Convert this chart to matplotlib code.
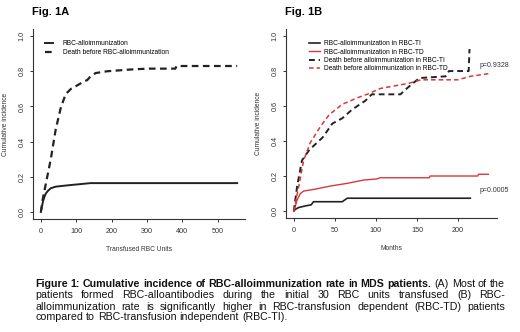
import numpy as np
import matplotlib
matplotlib.use("Agg")
import matplotlib.pyplot as plt

plt.rcParams['font.family'] = ['Liberation Sans', 'DejaVu Sans']

# Fig. 1A : cumulative incidence vs transfused units
units_allo = [0, 3, 6, 10, 14, 20, 28, 42, 60, 84, 110, 140, 555]
inc_allo = [0, 0.03, 0.06, 0.085, 0.105, 0.12, 0.135, 0.144, 0.148, 0.153, 0.158, 0.164, 0.164]
units_death = [0, 5, 14, 28, 42, 56, 70, 85, 103, 120, 131, 140, 155, 187, 253, 300, 380, 384, 555]
inc_death = [0, 0.07, 0.16, 0.30, 0.47, 0.59, 0.67, 0.70, 0.72, 0.74, 0.75, 0.77, 0.79, 0.80,
             0.81, 0.815, 0.815, 0.83, 0.83]

# Fig. 1B : cumulative incidence vs months
m_allo_ti = [0, 2, 6, 15, 21, 24, 59, 65, 215]
inc_allo_ti = [0, 0.01, 0.02, 0.03, 0.035, 0.053, 0.053, 0.073, 0.073]
m_allo_td = [0, 2, 4, 8, 12, 25, 45, 65, 85, 101, 105, 165, 166, 224, 225, 237]
inc_allo_td = [0, 0.03, 0.063, 0.10, 0.114, 0.124, 0.143, 0.158, 0.177, 0.183, 0.19, 0.19,
               0.20, 0.20, 0.21, 0.21]
m_death_ti = [0, 4, 10, 19, 35, 47, 59, 71, 87, 95, 105, 130, 135, 145, 153, 185, 189, 213, 214]
inc_death_ti = [0, 0.14, 0.29, 0.35, 0.42, 0.50, 0.53, 0.58, 0.63, 0.667, 0.667, 0.667, 0.69,
                0.73, 0.76, 0.77, 0.80, 0.80, 0.926]
m_death_td = [0, 6, 12, 20, 32, 43, 59, 79, 91, 105, 140, 155, 200, 215, 237]
inc_death_td = [0, 0.14, 0.29, 0.39, 0.48, 0.55, 0.61, 0.65, 0.67, 0.70, 0.73, 0.75, 0.75,
                0.77, 0.785]

labels_a = ['RBC-alloimmunization', 'Death before RBC-alloimmunization']
labels_b = ['RBC-alloimmunization in RBC-TI', 'RBC-alloimmunization in RBC-TD',
            'Death before alloimmunization in RBC-TI', 'Death before alloimmunization in RBC-TD']
p_values = ['p=0.9328', 'p=0.0005']

caption_bold = 'Figure 1: Cumulative incidence of RBC-alloimmunization rate in MDS patients.'
caption_lines = [
    'Figure 1: Cumulative incidence of RBC-alloimmunization rate in MDS patients. (A) Most of the',
    'patients formed RBC-alloantibodies during the initial 30 RBC units transfused (B) RBC-',
    'alloimmunization rate is significantly higher in RBC-transfusion dependent (RBC-TD) patients',
    'compared to RBC-transfusion independent (RBC-TI).',
]

RED = '#d8383c'
AXC = '#333333'

fig = plt.figure(figsize=(5.2, 3.32), dpi=100)
axA = fig.add_axes([0.0635, 0.3404, 0.4077, 0.572])
axB = fig.add_axes([0.55, 0.3434, 0.4058, 0.569])


def style(ax, xmax, xticks):
    ax.set_xlim(-0.04 * xmax, 1.04 * xmax)
    ax.set_ylim(-0.04, 1.04)
    ax.set_xticks(xticks)
    ax.set_yticks([0, 0.2, 0.4, 0.6, 0.8, 1.0])
    ax.set_yticklabels(['0.0', '0.2', '0.4', '0.6', '0.8', '1.0'], rotation=90, va='center')
    for s in ['top', 'right']:
        ax.spines[s].set_visible(False)
    for s in ['left', 'bottom']:
        ax.spines[s].set_color(AXC)
        ax.spines[s].set_linewidth(0.8)
    ax.tick_params(colors=AXC, labelcolor=AXC, labelsize=5.2, length=2.5, width=0.7)
    ax.tick_params(axis='y', pad=3)
    ax.tick_params(axis='x', pad=4)
    ax.set_ylabel('Cumulative incidence', fontsize=4.8, color=AXC, labelpad=7)


dash = (0, (3, 2))

axA.plot(units_allo, inc_allo, color='#222222', lw=1.4, label=labels_a[0])
axA.plot(units_death, inc_death, color='#222222', lw=1.6, ls=dash, label=labels_a[1])
style(axA, 555, [0, 100, 200, 300, 400, 500])
axA.set_xlabel('Transfused RBC Units', fontsize=4.8, color=AXC, labelpad=8)
axA.legend(loc='upper left', bbox_to_anchor=(0.055, 0.94), frameon=False, fontsize=4.8,
           handlelength=1.3, handletextpad=1.4, labelspacing=0.25, borderpad=0, borderaxespad=0)

axB.plot(m_allo_ti, inc_allo_ti, color='#222222', lw=1.2, label=labels_b[0])
axB.plot(m_allo_td, inc_allo_td, color=RED, lw=1.0, label=labels_b[1])
axB.plot(m_death_ti, inc_death_ti, color='#222222', lw=1.4, ls=dash, label=labels_b[2])
axB.plot(m_death_td, inc_death_td, color=RED, lw=1.1, ls=dash, label=labels_b[3])
style(axB, 238, [0, 50, 100, 150, 200])
axB.set_xlabel('Months', fontsize=4.8, color=AXC, labelpad=8)
axB.legend(loc='upper left', bbox_to_anchor=(0.11, 0.94), frameon=False, fontsize=4.8,
           handlelength=1.6, handletextpad=0.6, labelspacing=0.2, borderpad=0, borderaxespad=0)
axB.text(226, 0.83, p_values[0], fontsize=5, color=AXC, va='center', clip_on=False)
axB.text(226, 0.12, p_values[1], fontsize=5, color=AXC, va='center', clip_on=False)

fig.text(32 / 520, 1 - 12 / 332, 'Fig. 1A', fontsize=8, fontweight='bold', va='center')
fig.text(285 / 520, 1 - 12 / 332, 'Fig. 1B', fontsize=8, fontweight='bold', va='center')

# justified caption, placed word by word
renderer = fig.canvas.get_renderer()
x_left, x_right = 35, 505
line_y = [284, 295.5, 306.5, 317]
fs = 7.7
n_bold = len(caption_bold.split())
word_i = 0
for k, line in enumerate(caption_lines):
    words = line.split()
    arts = []
    for w in words:
        weight = 'bold' if word_i < n_bold else 'normal'
        word_i += 1
        t = fig.text(0, 1 - line_y[k] / 332, w, fontsize=fs, fontweight=weight,
                     va='center', color='#111111')
        arts.append(t)
    widths = [a.get_window_extent(renderer).width for a in arts]
    if k < len(caption_lines) - 1:
        gap = (x_right - x_left - sum(widths)) / (len(words) - 1)
    else:
        gap = fs * 100 / 72 * 0.28
    x = x_left
    for a, wd in zip(arts, widths):
        a.set_x(x / 520)
        x += wd + gap

fig.savefig('out.png', dpi=100)
